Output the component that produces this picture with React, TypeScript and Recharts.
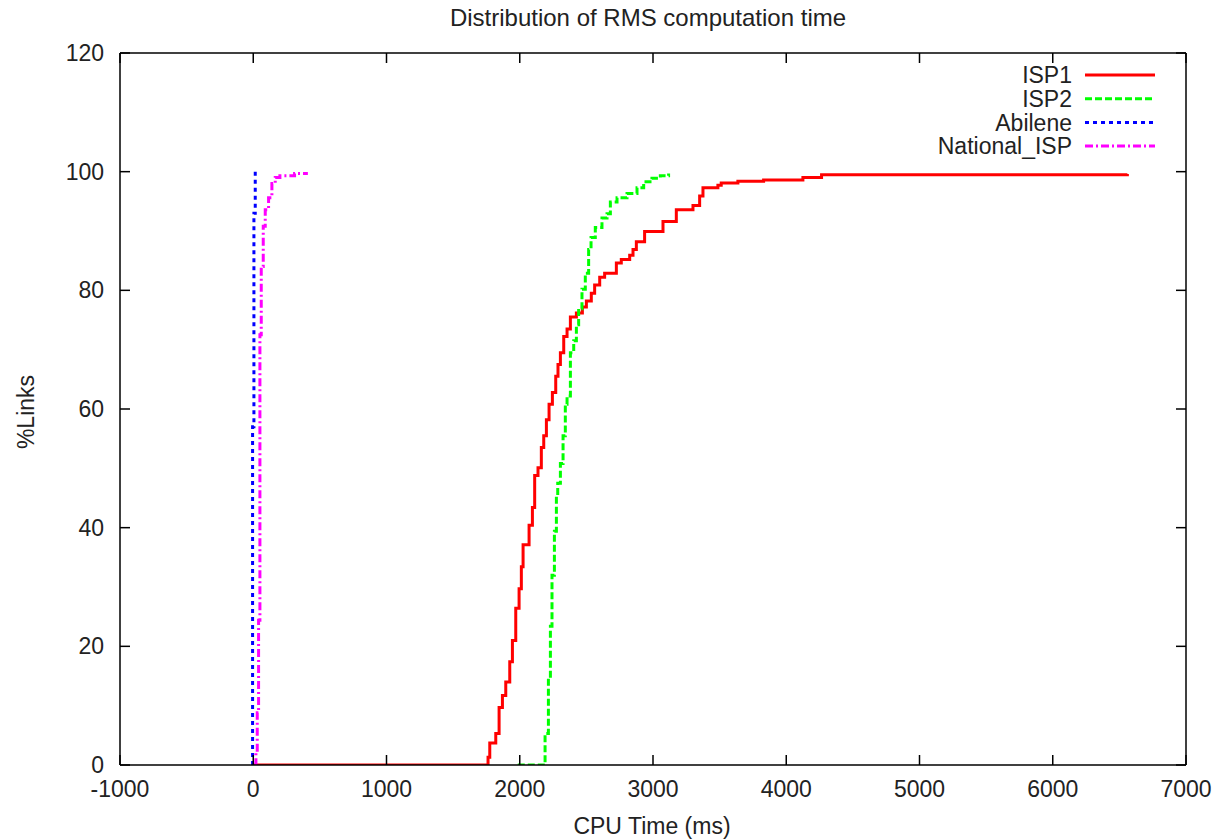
import { LineChart, Line, XAxis, YAxis } from 'recharts';

// CDF of RMS computation time per network (x: CPU ms, y: % links)
const isp1X = [0, 1740, 1762, 1775, 1820, 1845, 1870, 1895, 1925, 1945, 1970, 1995, 2012, 2025, 2070, 2095, 2112, 2137, 2162, 2180, 2200, 2220, 2245, 2270, 2287, 2305, 2330, 2355, 2380, 2425, 2470, 2500, 2537, 2562, 2600, 2637, 2725, 2762, 2825, 2850, 2875, 2937, 3075, 3175, 3300, 3350, 3375, 3487, 3512, 3637, 3830, 4125, 4265, 6560];
const isp1Y = [0, 0, 1.3, 3.7, 5.3, 9.7, 11.7, 14, 17.4, 21, 26.4, 29.7, 33.4, 37.1, 40.4, 43.4, 48.8, 50.1, 53.5, 55.5, 58.2, 60.8, 62.8, 65.5, 67.5, 69.5, 72.2, 73.5, 75.5, 76.2, 77.2, 78.2, 79.5, 80.9, 82.2, 82.9, 84.6, 85.2, 85.9, 86.9, 88.2, 89.9, 91.6, 93.6, 94.3, 95.9, 97.3, 97.7, 98.1, 98.4, 98.6, 99.0, 99.5, 99.6];

const isp2X = [1985, 2163, 2190, 2215, 2230, 2242, 2260, 2275, 2285, 2305, 2325, 2342, 2355, 2380, 2405, 2425, 2442, 2467, 2492, 2517, 2535, 2567, 2617, 2655, 2680, 2730, 2805, 2880, 2930, 2992, 3055, 3117];
const isp2Y = [0, 0, 5.3, 14.7, 23.4, 32, 39.4, 45.5, 47.5, 50.8, 55.5, 60.8, 62.2, 69.5, 71.5, 74.2, 76.9, 80.2, 82.9, 86.9, 88.9, 90.6, 92.2, 92.9, 94.9, 95.6, 96.3, 97.3, 98.3, 98.9, 99.3, 99.7];

const abileneX = [-5, -5, 5, 15];
const abileneY = [0, 57, 93, 100];

const nationalX = [10, 20, 30, 40, 50, 60, 75, 90, 115, 140, 165, 200, 310, 410];
const nationalY = [0, 2, 8.8, 24.4, 72.5, 84, 90.8, 93.6, 95.6, 98, 99, 99.3, 99.7, 99.7];

const xTicks = [-1000, 0, 1000, 2000, 3000, 4000, 5000, 6000, 7000];
const yTicks = [0, 20, 40, 60, 80, 100, 120];

const toPoints = (xs: number[], ys: number[]) => xs.map((x, i) => ({ x, y: ys[i] }));

const series = [
  { name: 'ISP1', color: '#ff0000', dash: undefined, data: toPoints(isp1X, isp1Y) },
  { name: 'ISP2', color: '#00ff00', dash: '7 3', data: toPoints(isp2X, isp2Y) },
  { name: 'Abilene', color: '#0000ff', dash: '4 4', data: toPoints(abileneX, abileneY) },
  { name: 'National_ISP', color: '#ff00ff', dash: '8 3 2 3', data: toPoints(nationalX, nationalY) },
];

const FONT = '"Liberation Sans", Arial, sans-serif';
const tickStyle = { fontSize: 23, fill: '#222', fontFamily: FONT };
const frame = { stroke: '#000', strokeWidth: 1.5 };
const noLabel = () => <g />;

function KeyBox() {
  return (
    <svg width={270} height={100} style={{ position: 'absolute', left: 900, top: 62 }}>
      {series.map((s, i) => {
        const y = 13 + i * 23.7;
        return (
          <g key={s.name}>
            <text x={172} y={y} dy="0.36em" textAnchor="end" fontSize={23} fill="#222" fontFamily={FONT}>
              {s.name}
            </text>
            <line x1={185} x2={255} y1={y} y2={y} stroke={s.color} strokeWidth={3} strokeDasharray={s.dash} />
          </g>
        );
      })}
    </svg>
  );
}

export default function App() {
  const xCommon = { type: 'number' as const, dataKey: 'x', domain: [-1000, 7000], ticks: xTicks, allowDataOverflow: true };
  const yCommon = { type: 'number' as const, domain: [0, 120], ticks: yTicks, allowDataOverflow: true };
  return (
    <div style={{ position: 'absolute', left: 0, top: 0, width: 1225, height: 839, background: '#fff' }}>
      <LineChart width={1225} height={839} margin={{ top: 53, right: 39, bottom: 44, left: 0 }}>
        {/* labels */}
        <XAxis xAxisId="bottom" {...xCommon} height={30} tickSize={0} tickMargin={16} tick={tickStyle} tickLine={false} axisLine={false} />
        <YAxis yAxisId="left" {...yCommon} width={120} tickSize={0} tickMargin={16} tick={tickStyle} tickLine={false} axisLine={false} />
        {/* frame with inward ticks on all four sides */}
        <XAxis xAxisId="bottomIn" {...xCommon} mirror height={10} tickSize={10} tick={noLabel} axisLine={frame} tickLine={frame} />
        <XAxis xAxisId="topIn" {...xCommon} orientation="top" mirror height={10} tickSize={10} tick={noLabel} axisLine={frame} tickLine={frame} />
        <YAxis yAxisId="leftIn" {...yCommon} mirror width={10} tickSize={10} tick={noLabel} axisLine={frame} tickLine={frame} />
        <YAxis yAxisId="rightIn" {...yCommon} orientation="right" mirror width={10} tickSize={10} tick={noLabel} axisLine={frame} tickLine={frame} />
        {series.map((s) => (
          <Line
            key={s.name}
            name={s.name}
            data={s.data}
            dataKey="y"
            xAxisId="bottom"
            yAxisId="left"
            type="stepAfter"
            stroke={s.color}
            strokeWidth={3}
            strokeDasharray={s.dash}
            dot={false}
            activeDot={false}
            isAnimationActive={false}
          />
        ))}
      </LineChart>
      <KeyBox />
      <div style={{ position: 'absolute', left: 648, top: 18, transform: 'translate(-50%, -50%)', whiteSpace: 'nowrap', fontFamily: FONT, fontSize: 24, color: '#222' }}>
        Distribution of RMS computation time
      </div>
      <div style={{ position: 'absolute', left: 652, top: 826, transform: 'translate(-50%, -50%)', whiteSpace: 'nowrap', fontFamily: FONT, fontSize: 23, color: '#222' }}>
        CPU Time (ms)
      </div>
      <div style={{ position: 'absolute', left: 26, top: 412, transform: 'translate(-50%, -50%) rotate(-90deg)', whiteSpace: 'nowrap', fontFamily: FONT, fontSize: 23, color: '#222' }}>
        %Links
      </div>
    </div>
  );
}
